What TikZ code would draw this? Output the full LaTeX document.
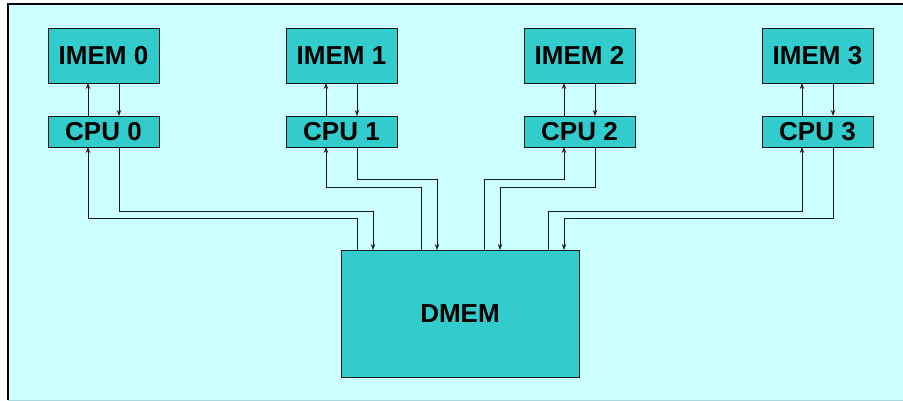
\documentclass[tikz,border=0pt]{standalone}
\usepackage{fontspec}
\setmainfont{Liberation Sans}
\usetikzlibrary{positioning,arrows.meta}

\definecolor{slidebg}{HTML}{CCFFFF}
\definecolor{boxteal}{HTML}{33CCCC}
\definecolor{wire}{HTML}{1A1A1A}
\definecolor{edgeline}{HTML}{A8D8DC}

\begin{document}
\begin{tikzpicture}[x=1pt,y=-1pt,>={Stealth[length=6pt,width=4.5pt]},line width=0.9pt,
    mem node/.style={draw=wire,fill=boxteal,outer sep=0pt,inner sep=0pt,minimum width=111pt,minimum height=55pt,font=\fontsize{26}{30}\selectfont\bfseries},
    cpu node/.style={mem node,minimum height=31pt},
    bus/.style={draw=wire,line width=0.9pt}]

    \useasboundingbox (0,0) rectangle (903,401);

    % slide background
    \fill[slidebg] (8,4) rectangle (903,400);
    \draw[edgeline] (8,400) -- (903,400);
    \draw[black,line width=1.2pt] (8,400) -- (8,4) -- (903,4);

    % instruction memories and cores
    \node[mem node] (imem0) at (103.5,55.5) {IMEM 0};
    \node[mem node] (imem1) at (341.5,55.5) {IMEM 1};
    \node[mem node] (imem2) at (579.5,55.5) {IMEM 2};
    \node[mem node] (imem3) at (817.5,55.5) {IMEM 3};

    \node[cpu node] (cpu0) [below=33pt of imem0] {CPU 0};
    \node[cpu node] (cpu1) [below=33pt of imem1] {CPU 1};
    \node[cpu node] (cpu2) [below=33pt of imem2] {CPU 2};
    \node[cpu node] (cpu3) [below=33pt of imem3] {CPU 3};

    % shared data memory
    \node[mem node,minimum width=238pt,minimum height=127pt] (dmem) at (460,313.5) {DMEM};

    % fetch paths
    \draw[bus,->] ([xshift=-15.5pt]cpu0.north) -- ([xshift=-15.5pt]imem0.south);
    \draw[bus,->] ([xshift=15.5pt]imem0.south) -- ([xshift=15.5pt]cpu0.north);
    \draw[bus,->] ([xshift=-15.5pt]cpu1.north) -- ([xshift=-15.5pt]imem1.south);
    \draw[bus,->] ([xshift=15.5pt]imem1.south) -- ([xshift=15.5pt]cpu1.north);
    \draw[bus,->] ([xshift=-15.5pt]cpu2.north) -- ([xshift=-15.5pt]imem2.south);
    \draw[bus,->] ([xshift=15.5pt]imem2.south) -- ([xshift=15.5pt]cpu2.north);
    \draw[bus,->] ([xshift=-15.5pt]cpu3.north) -- ([xshift=-15.5pt]imem3.south);
    \draw[bus,->] ([xshift=15.5pt]imem3.south) -- ([xshift=15.5pt]cpu3.north);

    % data paths to DMEM
    \draw[bus,->] ([xshift=-103pt]dmem.north) -- ++(0,-32) -| ([xshift=-15.5pt]cpu0.south);
    \draw[bus,->] ([xshift=15.5pt]cpu0.south) -- ++(0,64) -| ([xshift=-87pt]dmem.north);
    \draw[bus,->] ([xshift=-39pt]dmem.north) -- ++(0,-63) -| ([xshift=-15.5pt]cpu1.south);
    \draw[bus,->] ([xshift=15.5pt]cpu1.south) -- ++(0,32) -| ([xshift=-23pt]dmem.north);
    \draw[bus,->] ([xshift=24pt]dmem.north) -- ++(0,-71) -| ([xshift=-15.5pt]cpu2.south);
    \draw[bus,->] ([xshift=15.5pt]cpu2.south) -- ++(0,40) -| ([xshift=40pt]dmem.north);
    \draw[bus,->] ([xshift=88pt]dmem.north) -- ++(0,-39) -| ([xshift=-15.5pt]cpu3.south);
    \draw[bus,->] ([xshift=15.5pt]cpu3.south) -- ++(0,71) -| ([xshift=104pt]dmem.north);
\end{tikzpicture}
\end{document}
